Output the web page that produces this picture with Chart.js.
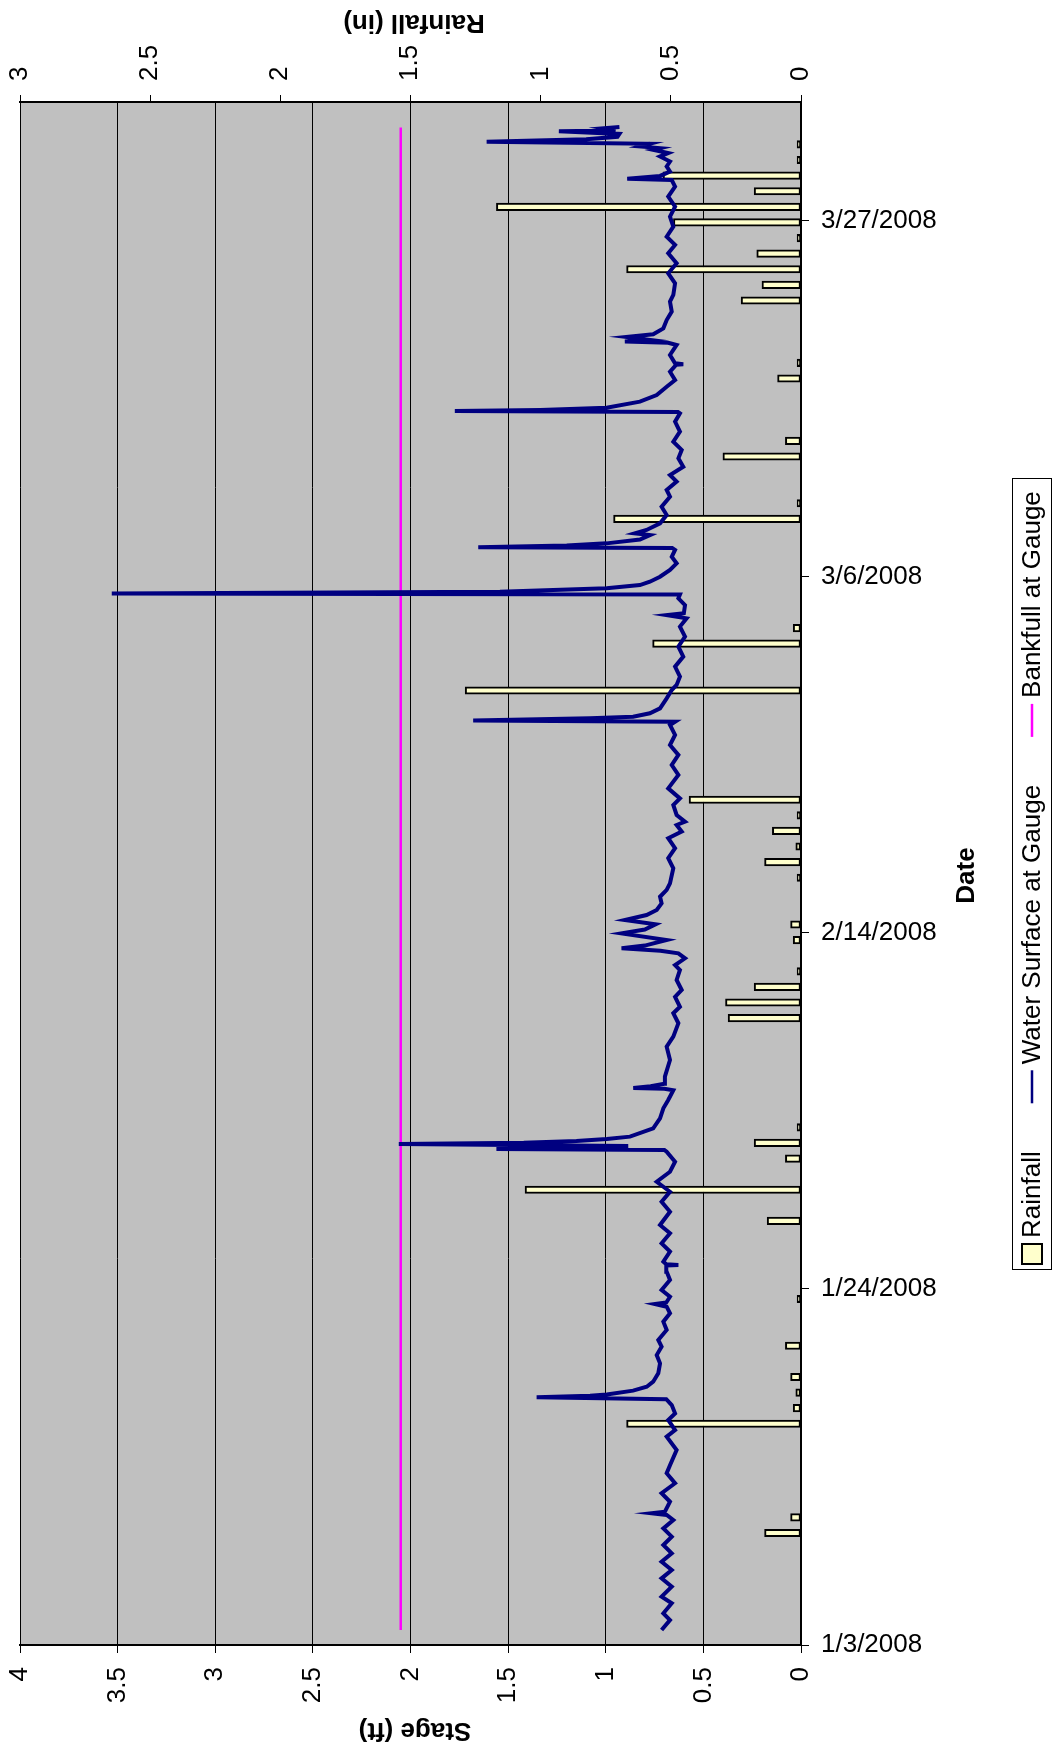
<!DOCTYPE html>
<html><head><meta charset="utf-8">
<script src="https://cdn.jsdelivr.net/npm/chart.js@4.4.1/dist/chart.umd.min.js"></script>
<style>html,body{margin:0;padding:0;background:#fff;}canvas{display:block;}</style>
</head><body>
<canvas id="c" width="1053" height="1751"></canvas>
<script>
// ---- data (days counted from 1/3/2008) ----
const startDate = [2008, 0, 3];
const dateTickStep = 21;
const stageTickStep = 0.5;
const rainTickStep = 0.5;

const stageDay = [0.88,1.47,1.87,2.46,2.85,3.44,3.93,4.42,4.91,5.41,5.90,6.39,6.88,7.37,7.67,7.77,7.86,8.45,8.95,9.54,10.13,10.60,11.50,12.29,12.68,13.27,13.66,14.15,14.50,14.61,14.70,14.78,15.00,15.23,15.53,16.02,16.61,17.10,17.59,17.99,18.58,19.07,19.56,19.95,20.11,20.20,20.54,20.94,21.53,22.02,22.38,22.41,22.45,22.61,23.20,23.69,24.28,24.77,25.55,26.14,26.73,27.32,27.91,28.50,29.09,29.20,29.25,29.33,29.43,29.55,29.62,29.72,29.84,29.98,30.47,31.06,31.65,32.14,32.72,32.80,32.85,32.95,33.10,33.52,34.50,35.29,35.88,36.67,37.26,37.64,38.23,38.63,39.22,39.81,40.10,40.50,40.79,40.95,41.09,41.25,41.58,41.97,42.20,42.50,42.76,43.05,43.35,43.74,44.13,44.53,44.92,45.81,46.40,46.99,47.58,47.97,48.36,48.56,48.95,49.54,49.93,50.52,51.31,51.90,52.49,53.08,53.67,54.26,54.45,54.53,54.65,54.75,54.95,55.24,55.83,56.32,56.62,57.11,57.70,58.29,58.88,59.47,60.06,60.55,60.74,60.85,61.33,61.73,61.95,62.02,62.12,62.32,62.51,62.71,63.00,63.40,63.79,64.18,64.58,64.70,64.74,64.85,64.97,65.20,65.46,65.56,65.76,66.15,66.64,67.13,67.72,68.12,68.61,69.00,69.49,69.99,70.48,70.97,71.56,72.15,72.64,72.72,72.78,72.84,72.97,73.33,73.72,74.21,74.60,75.09,75.50,75.53,75.59,76.08,76.67,76.80,76.87,76.98,77.14,77.30,77.65,78.14,78.64,79.23,79.62,80.31,80.90,81.49,82.08,82.57,83.06,83.65,84.24,84.83,85.42,86.01,86.40,86.48,86.64,86.90,87.20,87.49,87.79,87.99,88.18,88.28,88.38,88.54,88.66,88.80,88.95,89.12,89.28,89.32,89.45,89.52];
const stageFt = [0.714,0.671,0.705,0.662,0.714,0.662,0.714,0.662,0.714,0.662,0.705,0.662,0.705,0.654,0.688,0.765,0.697,0.671,0.714,0.645,0.688,0.671,0.637,0.688,0.645,0.680,0.645,0.662,0.690,1.354,1.080,0.995,0.860,0.790,0.757,0.731,0.722,0.739,0.714,0.731,0.688,0.705,0.671,0.688,0.748,0.690,0.671,0.714,0.671,0.688,0.690,0.628,0.690,0.705,0.671,0.714,0.671,0.722,0.671,0.714,0.671,0.739,0.671,0.645,0.688,0.700,1.560,1.050,0.885,2.060,1.420,1.150,0.995,0.876,0.757,0.722,0.705,0.680,0.654,0.700,0.859,0.770,0.700,0.697,0.671,0.688,0.654,0.628,0.654,0.620,0.645,0.611,0.637,0.620,0.645,0.594,0.628,0.720,0.919,0.800,0.688,0.919,0.800,0.745,0.902,0.791,0.739,0.714,0.722,0.688,0.671,0.654,0.680,0.645,0.680,0.611,0.637,0.594,0.637,0.654,0.620,0.680,0.628,0.662,0.628,0.671,0.645,0.671,0.645,1.679,1.081,0.860,0.774,0.722,0.688,0.662,0.637,0.620,0.645,0.603,0.628,0.594,0.620,0.586,0.688,0.600,0.594,0.628,0.620,3.530,1.542,0.996,0.825,0.774,0.722,0.671,0.637,0.662,0.645,0.660,1.653,1.200,0.996,0.825,0.774,0.851,0.791,0.722,0.688,0.714,0.671,0.688,0.637,0.671,0.603,0.628,0.611,0.654,0.620,0.645,0.620,0.630,1.773,1.335,0.996,0.825,0.739,0.688,0.645,0.671,0.640,0.603,0.645,0.671,0.637,0.680,0.902,0.780,0.893,0.757,0.705,0.688,0.662,0.671,0.654,0.645,0.680,0.637,0.680,0.645,0.688,0.654,0.671,0.645,0.680,0.645,0.662,0.890,0.722,0.671,0.688,0.671,0.722,0.680,0.757,0.722,0.825,0.774,1.610,1.100,0.940,0.930,1.240,0.950,1.010,0.930];

const bankfullDay = [0.88, 89.5];
const bankfullFt = [2.05, 2.05];

// rainfall: daily slots on the secondary (hidden) category axis
const rainSlot = [7,8,14,15,16,17,19,22,27,29,31,32,33,40,41,42,43,45,46,49,50,51,52,53,54,61,64,65,72,73,76,77,81,82,86,87,88,89,90,91,92,93,94,95,96];
const rainIn   = [0.14,0.04,0.67,0.03,0.02,0.04,0.06,0.015,0.13,1.06,0.06,0.18,0.015,0.28,0.29,0.18,0.015,0.03,0.04,0.015,0.14,0.02,0.11,0.015,0.43,1.29,0.57,0.03,0.72,0.015,0.30,0.06,0.09,0.015,0.23,0.15,0.67,0.17,0.015,0.49,1.17,0.18,0.53,0.015,0.015];

const labels = {
  rain: 'Rainfall', water: 'Water Surface at Gauge', bank: 'Bankfull at Gauge',
  stageTitle: 'Stage (ft)', rainTitle: 'Rainfall (in)', dateTitle: 'Date'
};

// ---- chart ----
const FONT = '"Liberation Sans", Arial, Helvetica, sans-serif';
Chart.defaults.font.family = FONT;
Chart.defaults.color = '#000';

function dayLabel(v) {
  const d = new Date(startDate[0], startDate[1], startDate[2] + Math.round(v));
  return (d.getMonth() + 1) + '/' + d.getDate() + '/' + d.getFullYear();
}
const numLabel = v => String(Number(v.toFixed(2)));
function noPad(s) { s.paddingLeft = 0; s.paddingRight = 0; s.paddingTop = 0; s.paddingBottom = 0; }

const decor = {
  id: 'decor',
  beforeDraw(chart) {
    const {ctx, chartArea: a} = chart;
    ctx.save();
    ctx.fillStyle = '#C0C0C0';
    ctx.fillRect(a.left, a.top, a.right - a.left, a.bottom - a.top);
    ctx.restore();
  },
  afterDraw(chart) {
    const {ctx, chartArea: a} = chart;
    ctx.save();
    ctx.fillStyle = '#000';
    ctx.textAlign = 'center';
    ctx.textBaseline = 'middle';
    ctx.font = 'bold 26px ' + FONT;
    ctx.save(); ctx.translate(414, 22); ctx.rotate(Math.PI); ctx.fillText(labels.rainTitle, 0, 0); ctx.restore();
    ctx.save(); ctx.translate(415, 1730); ctx.rotate(Math.PI); ctx.fillText(labels.stageTitle, 0, 0); ctx.restore();
    ctx.save(); ctx.translate(967, (a.top + a.bottom) / 2 + 2); ctx.rotate(-Math.PI / 2); ctx.fillText(labels.dateTitle, 0, 0); ctx.restore();

    // legend box
    ctx.fillStyle = '#fff';
    ctx.fillRect(1012, 478, 40, 792);
    ctx.strokeStyle = '#000'; ctx.lineWidth = 1;
    ctx.strokeRect(1012.5, 478.5, 39, 791);
    ctx.translate(1032, 1270);
    ctx.rotate(-Math.PI / 2);
    ctx.font = '26px ' + FONT;
    ctx.textAlign = 'left';
    ctx.fillStyle = '#FFFFCC'; ctx.fillRect(6, -10, 20, 20);
    ctx.strokeStyle = '#000'; ctx.lineWidth = 2; ctx.strokeRect(6, -10, 20, 20);
    ctx.fillStyle = '#000';
    let pos = 32;
    ctx.fillText(labels.rain, pos, 1);
    pos += ctx.measureText(labels.rain).width + 48;
    ctx.strokeStyle = '#000080'; ctx.lineWidth = 2.5;
    ctx.beginPath(); ctx.moveTo(pos, 0); ctx.lineTo(pos + 33, 0); ctx.stroke();
    pos += 39;
    ctx.fillText(labels.water, pos, 1);
    pos += ctx.measureText(labels.water).width + 48;
    ctx.strokeStyle = '#FF00FF';
    ctx.beginPath(); ctx.moveTo(pos, 0); ctx.lineTo(pos + 33, 0); ctx.stroke();
    pos += 39;
    ctx.fillText(labels.bank, pos, 1);
    ctx.restore();
  }
};

new Chart(document.getElementById('c'), {
  type: 'line',
  data: {
    datasets: [
      {
        type: 'line', label: labels.water, indexAxis: 'y',
        data: stageDay.map((d, i) => ({x: stageFt[i], y: d})),
        xAxisID: 'xStage', yAxisID: 'yDate',
        borderColor: '#000080', borderWidth: 4, pointRadius: 0, tension: 0, order: 0
      },
      {
        type: 'line', label: labels.bank, indexAxis: 'y',
        data: bankfullDay.map((d, i) => ({x: bankfullFt[i], y: d})),
        xAxisID: 'xStage', yAxisID: 'yDate',
        borderColor: '#FF00FF', borderWidth: 2.5, pointRadius: 0, order: 1
      },
      {
        type: 'bar', label: labels.rain, indexAxis: 'y',
        data: rainSlot.map((s, i) => ({x: rainIn[i], y: s})),
        xAxisID: 'xRain', yAxisID: 'yRain',
        backgroundColor: '#FFFFCC', borderColor: '#000', borderWidth: 2,
        borderSkipped: false, barThickness: 7.5, order: 2
      }
    ]
  },
  options: {
    responsive: false, animation: false, devicePixelRatio: 1,
    layout: {padding: {left: 20, right: 0, top: 0, bottom: 0}},
    plugins: {legend: {display: false}, tooltip: {enabled: false}},
    scales: {
      xStage: {
        type: 'linear', axis: 'x', position: 'bottom', reverse: true, min: 0, max: 4, offset: false,
        grid: {color: '#000', lineWidth: 1, tickLength: 8, drawTicks: true, offset: false},
        border: {display: true, color: '#000', width: 2},
        ticks: {stepSize: stageTickStep, minRotation: 90, maxRotation: 90, autoSkip: false,
                padding: 14, font: {size: 26}, callback: numLabel},
        afterFit: s => { s.height = 106; noPad(s); }
      },
      xRain: {
        type: 'linear', axis: 'x', position: 'top', reverse: true, min: 0, max: 3, offset: false,
        grid: {drawOnChartArea: false, color: '#000', tickLength: 7, offset: false},
        border: {display: true, color: '#000', width: 2},
        ticks: {stepSize: rainTickStep, minRotation: 90, maxRotation: 90, autoSkip: false,
                padding: 14, labelOffset: 31, font: {size: 26}, callback: numLabel},
        afterFit: s => { s.height = 102; noPad(s); }
      },
      yDate: {
        type: 'linear', axis: 'y', position: 'right', min: 0, max: 91, offset: false,
        grid: {drawOnChartArea: false, color: '#000', tickLength: 8, offset: false},
        border: {display: true, color: '#000', width: 2},
        ticks: {stepSize: dateTickStep, includeBounds: false, autoSkip: false, padding: 12,
                font: {size: 26}, callback: dayLabel},
        afterFit: s => { s.width = 252; noPad(s); }
      },
      yRain: {
        type: 'linear', axis: 'y', position: 'left', display: false, offset: false,
        min: -0.42, max: 98.48
      }
    }
  },
  plugins: [decor]
});
</script>
</body></html>
